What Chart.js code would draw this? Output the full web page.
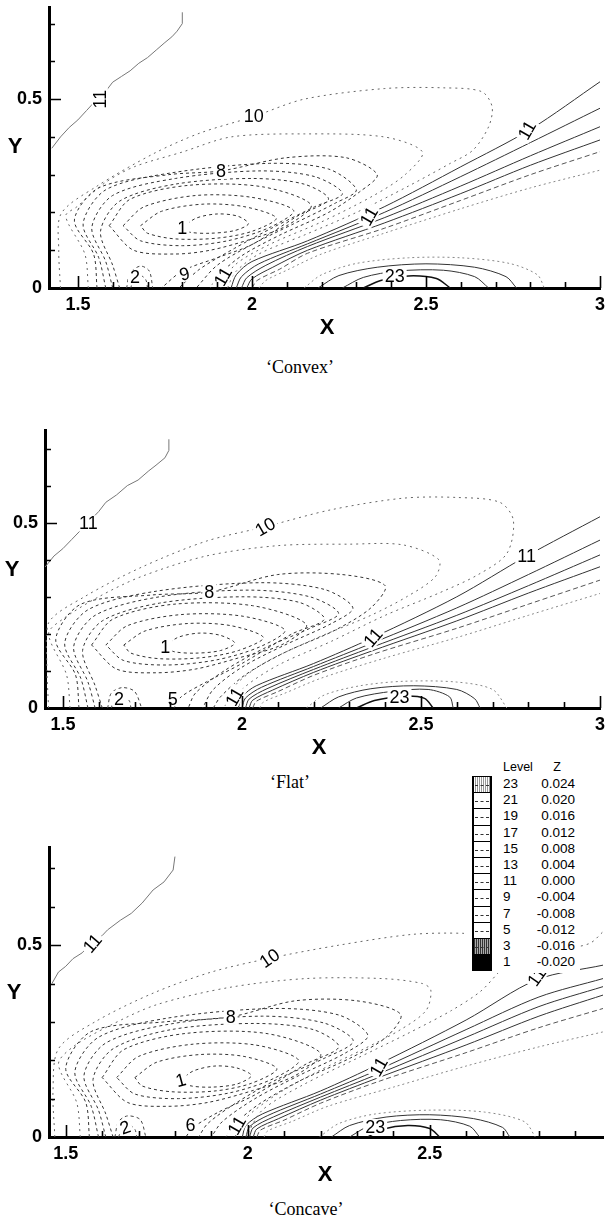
<!DOCTYPE html>
<html>
<head>
<meta charset="utf-8">
<script src="https://cdn.jsdelivr.net/npm/chart.js@4.4.1/dist/chart.umd.min.js"></script>
<style>
  body { margin: 0; background: #fff; }
  #page { position: relative; width: 607px; height: 1224px; overflow: hidden; background: #fff; }
  .panel { position: absolute; left: 0; }
  .cap { position: absolute; font-family: 'Liberation Serif', 'Times New Roman', serif; font-size: 18px; transform: translateX(-50%); white-space: nowrap; }
  #legend { position: absolute; left: 465px; top: 757px; width: 115px; height: 216px; background: #fff; font-family: 'Liberation Sans', Arial, sans-serif; color: #000; }
  #legend .t { position: absolute; height: 16px; line-height: 16px; font-size: 13.5px; white-space: nowrap; }
  #legend .box { position: absolute; left: 7px; width: 20px; border-left: 2px solid #000; border-right: 2px solid #000; border-top: 1px solid #000; box-sizing: border-box; background: #fff; }
  #legend .box i { position: absolute; left: 1px; right: 1px; top: 50%; border-top: 1px dashed #333; }
</style>
</head>
<body>
<div id="page">
  <div class="panel" style="top:0"><canvas id="convex" width="607" height="340"></canvas></div>
  <div class="panel" style="top:420px"><canvas id="flat" width="607" height="340"></canvas></div>
  <div class="panel" style="top:840px"><canvas id="concave" width="607" height="350"></canvas></div>
  <div class="cap" style="left:300px; top:357px">‘Convex’</div>
  <div class="cap" style="left:290px; top:772px">‘Flat’</div>
  <div class="cap" style="left:306px; top:1199px">‘Concave’</div>
  <div id="legend"></div>
</div>
<script>
/* ============================================================
   Streamfunction contours — three wall shapes (Chart.js)
   ============================================================ */

// ── Axis ticks ──────────────────────────────────────────────
const xTickMarks = [1.5, 1.6, 1.7, 1.8, 1.9, 2, 2.1, 2.2, 2.3, 2.4, 2.5, 2.6, 2.7, 2.8, 2.9, 3];
const xLabelTicks = [1.5, 2, 2.5, 3];
const yTickMarks = [0.1, 0.2, 0.3, 0.4, 0.5, 0.6, 0.7];
const yLabelTicks = [0, 0.5];

// ── Legend ──────────────────────────────────────────────────
const legendLevels = [23, 21, 19, 17, 15, 13, 11, 9, 7, 5, 3, 1];
const legendZ = ['0.024', '0.020', '0.016', '0.012', '0.008', '0.004', '0.000', '-0.004', '-0.008', '-0.012', '-0.016', '-0.020'];

// ── 'Convex' ────────────────────────────────────────────────
const convexEdge = [[1.425,0.37],[1.45,0.40],[1.475,0.425],[1.50,0.445],[1.525,0.47],[1.55,0.495],[1.575,0.515],[1.60,0.545],[1.625,0.56],[1.65,0.575],[1.675,0.595],[1.70,0.61],[1.725,0.63],[1.75,0.65],[1.77,0.665],[1.785,0.68],[1.80,0.70],[1.80,0.73]];
const convexRings = [
  [[1.80,0.16],[1.84,0.185],[1.90,0.196],[1.96,0.19],[1.99,0.17],[1.95,0.152],[1.88,0.145],[1.82,0.148],[1.80,0.16]],
  [[1.68,0.165],[1.74,0.203],[1.86,0.222],[1.98,0.215],[2.07,0.185],[2.0,0.15],[1.90,0.132],[1.78,0.13],[1.70,0.145],[1.68,0.165]],
  [[1.63,0.165],[1.69,0.215],[1.84,0.245],[2.0,0.24],[2.12,0.205],[2.05,0.16],[1.93,0.125],[1.80,0.112],[1.68,0.125],[1.63,0.165]],
  [[1.59,0.165],[1.65,0.235],[1.82,0.272],[2.03,0.268],[2.17,0.22],[2.10,0.165],[2.0,0.13],[1.88,0.10],[1.78,0.09],[1.66,0.10],[1.59,0.165]],
  [[1.62,0],[1.60,0.06],[1.565,0.15],[1.62,0.23],[1.78,0.275],[2.0,0.29],[2.15,0.275],[2.22,0.235],[2.13,0.19],[2.0,0.115],[1.90,0.08],[1.80,0.045],[1.74,0]],
  [[1.60,0],[1.58,0.07],[1.54,0.16],[1.60,0.245],[1.78,0.29],[2.02,0.31],[2.18,0.295],[2.26,0.25],[2.18,0.215],[2.06,0.16],[1.95,0.105],[1.85,0.05],[1.79,0]],
  [[1.58,0],[1.56,0.08],[1.515,0.17],[1.58,0.26],[1.77,0.305],[2.05,0.33],[2.22,0.315],[2.30,0.26],[2.24,0.225],[2.12,0.17],[2.0,0.115],[1.90,0.06],[1.84,0]],
  [[1.555,0],[1.545,0.09],[1.49,0.18],[1.56,0.265],[1.76,0.30],[1.911,0.31],[2.10,0.345],[2.27,0.345],[2.36,0.30],[2.31,0.255],[2.22,0.20],[2.08,0.14],[1.97,0.085],[1.90,0.03],[1.88,0]],
  [[1.53,0],[1.52,0.09],[1.465,0.19],[1.497,0.215],[1.58,0.28],[1.662,0.321],[1.80,0.36],[1.94,0.40],[2.15,0.408],[2.38,0.40],[2.49,0.36],[2.44,0.30],[2.35,0.245],[2.20,0.175],[2.05,0.115],[1.95,0.06],[1.91,0]],
  [[1.45,0],[1.445,0.1],[1.452,0.197],[1.552,0.268],[1.718,0.356],[1.85,0.41],[2.005,0.454],[2.15,0.50],[2.38,0.528],[2.55,0.53],[2.66,0.52],[2.69,0.48],[2.68,0.427],[2.635,0.365],[2.57,0.33],[2.45,0.27],[2.30,0.20],[2.15,0.14],[2.02,0.09],[1.95,0.04],[1.93,0]]
];
const convexPockets = [
  [[1.64,0],[1.65,0.04],[1.68,0.058],[1.705,0.045],[1.715,0]],
  [[1.652,0],[1.66,0.025],[1.68,0.033],[1.695,0.022],[1.70,0]]
];
const convexBand = [
  [[1.94,0],[1.955,0.035],[2.0,0.07],[2.16,0.125],[2.38,0.215],[2.6,0.321],[2.8,0.42],[3.0,0.546]],
  [[1.955,0],[1.97,0.03],[2.02,0.064],[2.16,0.117],[2.38,0.20],[2.6,0.295],[2.8,0.385],[3.0,0.476]],
  [[1.97,0],[1.985,0.027],[2.04,0.06],[2.16,0.11],[2.38,0.186],[2.6,0.27],[2.8,0.35],[3.0,0.427]],
  [[1.985,0],[2.0,0.024],[2.06,0.055],[2.16,0.10],[2.38,0.172],[2.6,0.25],[2.8,0.325],[3.0,0.392]],
  [[2.0,0],[2.015,0.02],[2.08,0.05],[2.16,0.092],[2.38,0.158],[2.6,0.232],[2.8,0.30],[3.0,0.361]],
  [[2.02,0],[2.04,0.02],[2.10,0.047],[2.2,0.09],[2.38,0.145],[2.6,0.21],[2.8,0.265],[3.0,0.312]]
];
const convexLobe = [
  [[2.15,0],[2.20,0.035],[2.30,0.065],[2.45,0.08],[2.60,0.08],[2.74,0.065],[2.82,0.035],[2.84,0]],
  [[2.19,0],[2.25,0.033],[2.36,0.055],[2.50,0.064],[2.64,0.055],[2.73,0.03],[2.76,0]],
  [[2.26,0],[2.32,0.028],[2.42,0.045],[2.55,0.047],[2.64,0.03],[2.68,0]],
  [[2.32,0],[2.37,0.02],[2.45,0.032],[2.53,0.025],[2.57,0]]
];
const convexLabels = [
  { t: '11', x: 1.563, y: 0.50, a: -90 }, { t: '10', x: 2.005, y: 0.454, a: 0 },
  { t: '8', x: 1.911, y: 0.31, a: 0 }, { t: '1', x: 1.80, y: 0.16, a: 0 },
  { t: '11', x: 2.336, y: 0.19, a: -60 }, { t: '11', x: 2.79, y: 0.418, a: -60 },
  { t: '2', x: 1.664, y: 0.028, a: 0 }, { t: '6', x: 1.806, y: 0.038, a: 165 },
  { t: '11', x: 1.917, y: 0.03, a: -60 }, { t: '23', x: 2.41, y: 0.031, a: 0 }
];

// ── 'Flat' ──────────────────────────────────────────────────
const flatEdge = [[1.45,0.38],[1.475,0.41],[1.50,0.43],[1.525,0.455],[1.545,0.475],[1.57,0.50],[1.60,0.53],[1.62,0.555],[1.65,0.575],[1.68,0.60],[1.71,0.615],[1.74,0.64],[1.76,0.655],[1.785,0.675],[1.796,0.695],[1.796,0.725]];
const flatRings = [
  [[1.786,0.165],[1.82,0.19],[1.88,0.202],[1.94,0.196],[1.98,0.175],[1.94,0.155],[1.87,0.148],[1.81,0.152],[1.786,0.165]],
  [[1.67,0.17],[1.73,0.208],[1.85,0.228],[1.97,0.222],[2.06,0.19],[1.99,0.155],[1.89,0.136],[1.77,0.133],[1.69,0.148],[1.67,0.17]],
  [[1.62,0.17],[1.68,0.222],[1.83,0.252],[2.0,0.248],[2.12,0.21],[2.05,0.165],[1.93,0.13],[1.79,0.116],[1.67,0.128],[1.62,0.17]],
  [[1.58,0.17],[1.64,0.24],[1.81,0.28],[2.03,0.276],[2.18,0.225],[2.11,0.17],[1.99,0.135],[1.87,0.105],[1.76,0.095],[1.65,0.105],[1.58,0.17]],
  [[1.61,0],[1.59,0.06],[1.555,0.155],[1.61,0.235],[1.77,0.283],[2.0,0.30],[2.16,0.285],[2.23,0.24],[2.14,0.20],[2.0,0.12],[1.90,0.07],[1.83,0.03],[1.81,0]],
  [[1.59,0],[1.57,0.07],[1.53,0.165],[1.59,0.25],[1.77,0.30],[2.02,0.318],[2.19,0.30],[2.27,0.255],[2.19,0.215],[2.06,0.16],[1.95,0.10],[1.87,0.04],[1.85,0]],
  [[1.57,0],[1.55,0.08],[1.505,0.175],[1.57,0.265],[1.76,0.315],[2.05,0.338],[2.23,0.32],[2.31,0.27],[2.25,0.228],[2.12,0.17],[2.0,0.11],[1.92,0.05],[1.89,0]],
  [[1.545,0],[1.535,0.09],[1.48,0.185],[1.55,0.28],[1.75,0.305],[1.909,0.313],[2.10,0.36],[2.28,0.36],[2.40,0.33],[2.36,0.27],[2.26,0.21],[2.12,0.15],[2.01,0.09],[1.94,0.03],[1.92,0]],
  [[1.52,0],[1.51,0.09],[1.46,0.20],[1.50,0.24],[1.60,0.30],[1.72,0.355],[1.90,0.41],[2.10,0.438],[2.30,0.442],[2.45,0.44],[2.55,0.40],[2.54,0.354],[2.46,0.30],[2.36,0.25],[2.20,0.185],[2.06,0.12],[1.98,0.06],[1.95,0]],
  [[1.46,0],[1.455,0.12],[1.46,0.23],[1.56,0.30],[1.72,0.38],[1.90,0.45],[2.065,0.489],[2.25,0.535],[2.45,0.566],[2.60,0.568],[2.72,0.555],[2.758,0.507],[2.74,0.417],[2.66,0.36],[2.55,0.31],[2.40,0.25],[2.25,0.18],[2.10,0.115],[2.0,0.05],[1.97,0]]
];
const flatPockets = [
  [[1.625,0],[1.635,0.04],[1.665,0.055],[1.70,0.045],[1.72,0]],
  [[1.635,0],[1.645,0.022],[1.665,0.03],[1.685,0.02],[1.69,0]]
];
const flatBand = [
  [[1.99,0],[2.0,0.03],[2.04,0.06],[2.2,0.12],[2.366,0.19],[2.6,0.30],[2.795,0.41],[3.0,0.516]],
  [[2.0,0],[2.01,0.027],[2.055,0.056],[2.2,0.112],[2.366,0.176],[2.6,0.27],[2.8,0.36],[3.0,0.453]],
  [[2.01,0],[2.02,0.024],[2.07,0.052],[2.2,0.104],[2.366,0.165],[2.6,0.25],[2.8,0.33],[3.0,0.413]],
  [[2.02,0],[2.03,0.021],[2.085,0.048],[2.2,0.096],[2.366,0.155],[2.6,0.235],[2.8,0.31],[3.0,0.381]],
  [[2.03,0],[2.04,0.018],[2.10,0.044],[2.2,0.088],[2.366,0.145],[2.6,0.215],[2.8,0.28],[3.0,0.345]],
  [[2.05,0],[2.06,0.016],[2.12,0.04],[2.22,0.08],[2.4,0.135],[2.6,0.19],[2.8,0.25],[3.0,0.309]]
];
const flatLobe = [
  [[2.18,0],[2.23,0.035],[2.33,0.06],[2.45,0.072],[2.60,0.07],[2.70,0.05],[2.74,0]],
  [[2.22,0],[2.27,0.03],[2.36,0.052],[2.48,0.06],[2.60,0.05],[2.65,0.025],[2.665,0]],
  [[2.27,0],[2.32,0.027],[2.42,0.045],[2.52,0.05],[2.58,0.03],[2.59,0]],
  [[2.32,0],[2.37,0.02],[2.45,0.032],[2.51,0.026],[2.534,0]]
];
const flatLabels = [
  { t: '11', x: 1.571, y: 0.498, a: 0 }, { t: '10', x: 2.065, y: 0.489, a: -30 },
  { t: '8', x: 1.909, y: 0.313, a: 0 }, { t: '1', x: 1.786, y: 0.165, a: 0 },
  { t: '11', x: 2.366, y: 0.19, a: -50 }, { t: '11', x: 2.795, y: 0.41, a: 0 },
  { t: '2', x: 1.657, y: 0.025, a: 0 }, { t: '5', x: 1.807, y: 0.025, a: 0 },
  { t: '11', x: 1.979, y: 0.03, a: -60 }, { t: '23', x: 2.44, y: 0.03, a: 0 }
];

// ── 'Concave' ───────────────────────────────────────────────
const concaveEdge = [[1.462,0.40],[1.48,0.43],[1.50,0.445],[1.52,0.465],[1.545,0.48],[1.56,0.495],[1.60,0.525],[1.615,0.54],[1.65,0.565],[1.68,0.583],[1.71,0.61],[1.74,0.644],[1.77,0.665],[1.795,0.696],[1.80,0.731]];
const concaveRings = [
  [[1.816,0.148],[1.85,0.172],[1.91,0.185],[1.97,0.18],[2.01,0.16],[1.97,0.138],[1.90,0.13],[1.84,0.134],[1.816,0.148]],
  [[1.69,0.155],[1.75,0.195],[1.87,0.215],[1.99,0.21],[2.08,0.178],[2.01,0.14],[1.91,0.12],[1.79,0.118],[1.71,0.133],[1.69,0.155]],
  [[1.64,0.155],[1.70,0.21],[1.85,0.242],[2.02,0.24],[2.14,0.20],[2.07,0.152],[1.95,0.115],[1.81,0.10],[1.69,0.112],[1.64,0.155]],
  [[1.60,0.155],[1.66,0.228],[1.83,0.27],[2.05,0.27],[2.20,0.218],[2.13,0.16],[2.01,0.12],[1.89,0.09],[1.78,0.08],[1.67,0.09],[1.60,0.155]],
  [[1.63,0],[1.61,0.06],[1.575,0.15],[1.63,0.23],[1.79,0.28],[2.02,0.296],[2.18,0.28],[2.25,0.235],[2.16,0.19],[2.02,0.11],[1.92,0.065],[1.85,0.025],[1.83,0]],
  [[1.61,0],[1.59,0.07],[1.55,0.16],[1.61,0.245],[1.79,0.295],[2.04,0.315],[2.21,0.297],[2.29,0.25],[2.21,0.205],[2.08,0.15],[1.97,0.09],[1.89,0.035],[1.865,0]],
  [[1.59,0],[1.57,0.08],[1.525,0.17],[1.59,0.26],[1.78,0.31],[2.07,0.335],[2.25,0.318],[2.33,0.265],[2.27,0.22],[2.14,0.16],[2.02,0.10],[1.93,0.04],[1.90,0]],
  [[1.565,0],[1.555,0.09],[1.50,0.18],[1.57,0.275],[1.77,0.30],[1.953,0.313],[2.13,0.355],[2.30,0.355],[2.42,0.32],[2.38,0.26],[2.28,0.205],[2.14,0.145],[2.03,0.085],[1.96,0.03],[1.94,0]],
  [[1.54,0],[1.53,0.09],[1.48,0.19],[1.52,0.235],[1.62,0.29],[1.75,0.345],[1.95,0.39],[2.16,0.413],[2.37,0.413],[2.48,0.40],[2.503,0.383],[2.49,0.33],[2.42,0.28],[2.32,0.23],[2.18,0.165],[2.07,0.105],[1.99,0.045],[1.965,0]],
  [[1.47,0],[1.465,0.12],[1.48,0.23],[1.58,0.30],[1.74,0.375],[1.90,0.43],[2.06,0.466],[2.25,0.50],[2.45,0.528],[2.59,0.531],[2.75,0.52],[2.88,0.495],[2.94,0.505],[2.976,0.535]],
  [[2.70,0.44],[2.69,0.43],[2.64,0.38],[2.56,0.33],[2.44,0.27],[2.30,0.205],[2.15,0.135],[2.04,0.07],[1.995,0]]
];
const concavePockets = [
  [[1.635,0],[1.645,0.04],[1.67,0.055],[1.705,0.045],[1.72,0]],
  [[1.645,0],[1.655,0.022],[1.675,0.03],[1.69,0.02],[1.695,0]]
];
const concaveBand = [
  [[1.985,0],[1.995,0.03],[2.04,0.06],[2.2,0.12],[2.36,0.19],[2.6,0.305],[2.794,0.41],[2.976,0.448]],
  [[1.995,0],[2.005,0.027],[2.055,0.056],[2.2,0.112],[2.36,0.176],[2.6,0.28],[2.8,0.365],[2.976,0.413]],
  [[2.005,0],[2.015,0.024],[2.07,0.052],[2.2,0.104],[2.36,0.165],[2.6,0.26],[2.8,0.34],[2.976,0.392]],
  [[2.015,0],[2.025,0.021],[2.085,0.048],[2.2,0.096],[2.36,0.155],[2.6,0.24],[2.8,0.315],[2.976,0.37]],
  [[2.025,0],[2.035,0.018],[2.10,0.044],[2.2,0.088],[2.36,0.145],[2.6,0.22],[2.8,0.285],[2.976,0.335]],
  [[2.045,0],[2.055,0.016],[2.12,0.04],[2.22,0.08],[2.4,0.13],[2.6,0.185],[2.8,0.235],[2.976,0.274]]
];
const concaveLobe = [
  [[2.197,0],[2.25,0.035],[2.35,0.06],[2.50,0.07],[2.65,0.065],[2.76,0.04],[2.79,0]],
  [[2.23,0],[2.28,0.03],[2.38,0.052],[2.50,0.058],[2.62,0.048],[2.70,0.025],[2.72,0]],
  [[2.28,0],[2.33,0.027],[2.42,0.043],[2.53,0.045],[2.61,0.028],[2.637,0]],
  [[2.33,0],[2.37,0.02],[2.44,0.03],[2.50,0.022],[2.527,0]]
];
const concaveLabels = [
  { t: '11', x: 1.573, y: 0.505, a: -50 }, { t: '10', x: 2.06, y: 0.466, a: -35 },
  { t: '8', x: 1.953, y: 0.313, a: 0 }, { t: '1', x: 1.816, y: 0.148, a: -15 },
  { t: '11', x: 2.36, y: 0.183, a: -60 }, { t: '11', x: 2.794, y: 0.418, a: -55 },
  { t: '2', x: 1.663, y: 0.025, a: -20 }, { t: '6', x: 1.843, y: 0.03, a: 0 },
  { t: '11', x: 1.97, y: 0.03, a: -60 }, { t: '23', x: 2.35, y: 0.026, a: 0 }
];

// ── Line styles ─────────────────────────────────────────────
const STY = {
  edge:   { borderColor: '#777', borderWidth: 1, tension: 0 },
  ring:   { borderColor: '#333', borderWidth: 1, borderDash: [3, 3] },
  outer:  { borderColor: '#666', borderWidth: 1, borderDash: [2, 4] },
  pocket: { borderColor: '#444', borderWidth: 1, borderDash: [3, 3] },
  solid:  { borderColor: '#333', borderWidth: 1 },
  dashed: { borderColor: '#555', borderWidth: 1, borderDash: [5, 3] },
  dotted: { borderColor: '#888', borderWidth: 1, borderDash: [2, 3] },
  heavy:  { borderColor: '#111', borderWidth: 1.5 }
};

function contour(pts, st) {
  return Object.assign({
    data: pts.map(p => ({ x: p[0], y: p[1] })),
    showLine: true, pointRadius: 0, fill: false, tension: 0.3
  }, st);
}

function panelSets(edge, rings, pockets, band, lobe) {
  const sets = [contour(edge, STY.edge)];
  rings.forEach((r, i) => sets.push(contour(r, i >= 8 ? STY.outer : STY.ring)));
  pockets.forEach(p => sets.push(contour(p, STY.pocket)));
  band.forEach((b, i) => sets.push(contour(b, i < 4 ? STY.solid : i === 4 ? STY.dashed : STY.dotted)));
  lobe.forEach((l, i) => sets.push(contour(l, i === 0 ? STY.dotted : i === 3 ? STY.heavy : STY.solid)));
  return sets;
}

// ── Inward ticks, contour labels, axis titles ───────────────
const decor = {
  id: 'decor',
  afterDraw(chart, args, o) {
    const { ctx, chartArea: a, scales: { x, y } } = chart;
    ctx.save();
    // contour labels on a white patch
    ctx.save();
    ctx.beginPath();
    ctx.rect(a.left + 2, a.top, a.width - 2, a.height - 2);
    ctx.clip();
    ctx.font = '18px "Liberation Sans", Arial, sans-serif';
    ctx.textAlign = 'center';
    ctx.textBaseline = 'middle';
    o.labels.forEach(l => {
      const px = x.getPixelForValue(l.x), py = y.getPixelForValue(l.y);
      ctx.save();
      ctx.translate(px, py);
      ctx.rotate(l.a * Math.PI / 180);
      const w = ctx.measureText(l.t).width;
      ctx.fillStyle = '#fff';
      ctx.fillRect(-w / 2 - 2, -8, w + 4, 16);
      ctx.fillStyle = '#000';
      ctx.fillText(l.t, 0, 1);
      ctx.restore();
    });
    ctx.restore();

    // ticks pointing into the plot
    ctx.strokeStyle = '#000';
    ctx.lineWidth = 1.6;
    ctx.beginPath();
    xTickMarks.forEach(v => {
      if (v < x.min || v > x.max + 1e-9) return;
      const px = Math.round(x.getPixelForValue(v)) + 0.5;
      const len = xLabelTicks.includes(v) ? 12 : 6;
      ctx.moveTo(px, a.bottom);
      ctx.lineTo(px, a.bottom - len);
    });
    yTickMarks.forEach(v => {
      if (v > y.max) return;
      const py = Math.round(y.getPixelForValue(v)) + 0.5;
      const len = yLabelTicks.includes(v) ? 12 : 6;
      ctx.moveTo(a.left, py);
      ctx.lineTo(a.left + len, py);
    });
    ctx.stroke();

    // axis titles
    ctx.fillStyle = '#000';
    ctx.font = 'bold 22px "Liberation Sans", Arial, sans-serif';
    ctx.textAlign = 'center';
    ctx.textBaseline = 'middle';
    ctx.fillText('X', o.xTitle[0], o.xTitle[1]);
    ctx.fillText('Y', o.yTitle[0], o.yTitle[1]);
    ctx.restore();
  }
};

function makePanel(id, sets, labels, box) {
  const canvas = document.getElementById(id);
  const W = canvas.width, H = canvas.height;
  const tickFont = { family: "'Liberation Sans', Arial, sans-serif", size: 18, weight: 'bold' };
  return new Chart(canvas, {
    type: 'scatter',
    data: { datasets: sets },
    options: {
      responsive: false,
      animation: false,
      events: [],
      layout: { padding: { left: 0, top: box.top, right: W - box.right, bottom: 0 } },
      plugins: {
        legend: { display: false },
        tooltip: { enabled: false },
        decor: { labels, xTitle: box.xTitle, yTitle: box.yTitle }
      },
      scales: {
        x: {
          type: 'linear', min: box.xMin, max: box.xMax,
          grid: { display: false, drawTicks: false },
          border: { display: true, color: '#000', width: 3 },
          ticks: { color: '#000', font: tickFont, padding: 6, maxRotation: 0, autoSkip: false, callback: v => String(v) },
          afterBuildTicks: s => { s.ticks = xLabelTicks.filter(v => v <= box.xMax + 1e-9).map(v => ({ value: v })); },
          afterFit: s => { s.height = H - box.bottom; s.paddingLeft = 0; s.paddingRight = 0; }
        },
        y: {
          type: 'linear', min: 0, max: box.yMax,
          grid: { display: false, drawTicks: false },
          border: { display: true, color: '#000', width: 3 },
          ticks: { color: '#000', font: tickFont, padding: 7, autoSkip: false, callback: v => String(v) },
          afterBuildTicks: s => { s.ticks = yLabelTicks.map(v => ({ value: v })); },
          afterFit: s => { s.width = box.left; s.paddingTop = 0; s.paddingBottom = 0; }
        }
      }
    },
    plugins: [decor]
  });
}

makePanel('convex', panelSets(convexEdge, convexRings, convexPockets, convexBand, convexLobe), convexLabels,
  { left: 49, right: 600, top: 7, bottom: 288, xMin: 1.417, xMax: 3.0, yMax: 0.744, xTitle: [327, 328], yTitle: [15, 147] });
makePanel('flat', panelSets(flatEdge, flatRings, flatPockets, flatBand, flatLobe), flatLabels,
  { left: 45, right: 600, top: 10, bottom: 288, xMin: 1.45, xMax: 3.0, yMax: 0.75, xTitle: [319, 328], yTitle: [12, 150] });
makePanel('concave', panelSets(concaveEdge, concaveRings, concavePockets, concaveBand, concaveLobe), concaveLabels,
  { left: 49, right: 603, top: 7, bottom: 297, xMin: 1.454, xMax: 2.976, yMax: 0.756, xTitle: [325, 335], yTitle: [14, 153] });

// ── Level / Z legend ────────────────────────────────────────
(function buildLegend() {
  const lg = document.getElementById('legend');
  const top0 = 757;
  const add = (txt, css) => { const d = document.createElement('div'); d.className = 't'; d.textContent = txt; Object.assign(d.style, css); lg.appendChild(d); };
  add('Level', { left: '38px', top: (767 - 8 - top0) + 'px', fontSize: '12.5px' });
  add('Z', { left: '88px', width: '8px', top: (767 - 8 - top0) + 'px', fontSize: '12.5px', textAlign: 'center' });
  const rowH = 16.2;
  legendLevels.forEach((lv, i) => {
    const cy = 784 + i * rowH - top0;
    add(String(lv), { left: '38px', top: (cy - 8) + 'px' });
    add(legendZ[i], { left: '60px', width: '50px', textAlign: 'right', top: (cy - 8) + 'px' });
    const b = document.createElement('div');
    b.className = 'box';
    b.style.top = (cy - rowH / 2) + 'px';
    b.style.height = (rowH + 1) + 'px';
    if (lv === 23) b.style.background = 'repeating-linear-gradient(90deg,#fff 0 1px,#999 1px 2px)';
    if (lv === 3) b.style.background = 'repeating-linear-gradient(90deg,#333 0 1px,#aaa 1px 2px)';
    if (lv === 1) b.style.background = '#000';
    if (lv !== 1) b.appendChild(document.createElement('i'));
    if (i === legendLevels.length - 1) b.style.borderBottom = '1px solid #000';
    lg.appendChild(b);
  });
})();
</script>
</body>
</html>
